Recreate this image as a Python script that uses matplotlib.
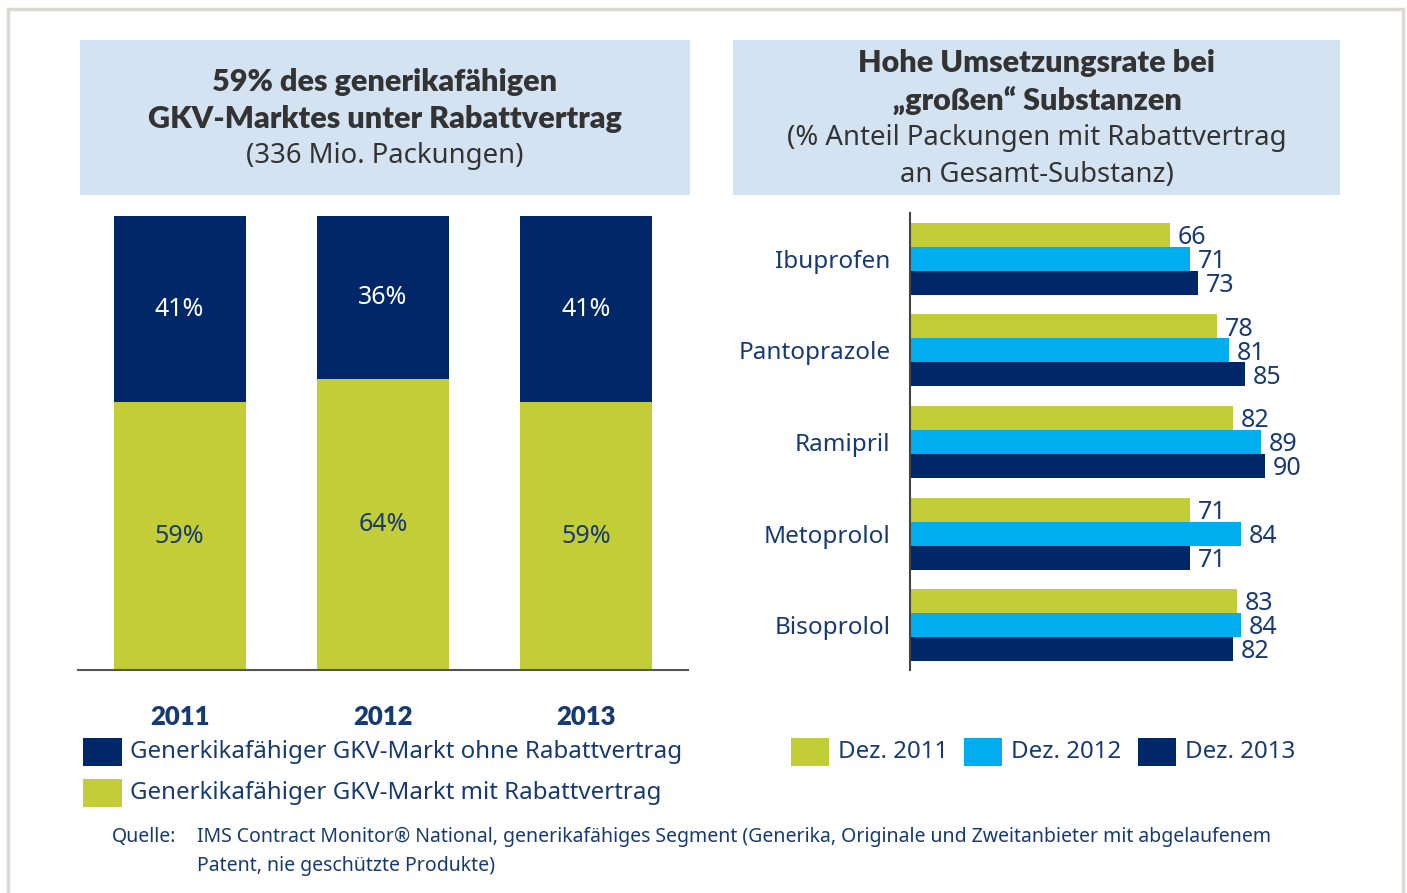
import matplotlib
matplotlib.use('Agg')
import matplotlib.pyplot as plt
from matplotlib.patches import Rectangle
import numpy as np

# left chart: share of generic-capable GKV market (%)
years = ['2011', '2012', '2013']
mit_rabatt = [59, 64, 59]
ohne_rabatt = [41, 36, 41]

# right chart: % packages under discount contract per substance
substances = ['Ibuprofen', 'Pantoprazole', 'Ramipril', 'Metoprolol', 'Bisoprolol']
dez_2011 = [66, 78, 82, 71, 83]
dez_2012 = [71, 81, 89, 84, 84]
dez_2013 = [73, 85, 90, 71, 82]

GREEN = '#c3cd37'
CYAN = '#00aeef'
NAVY = '#002868'
TXT = '#173a72'
TITLE = '#333333'
BOX = '#d4e3f1'
BOLD_FONT = ['Lato', 'DejaVu Sans']

W, H = 1407, 893
plt.rcParams['font.family'] = ['Noto Sans', 'DejaVu Sans']
fig = plt.figure(figsize=(W / 100, H / 100), dpi=100)


def box(x0, y0, x1, y1):
    # pixel coords (y from top) -> figure rect
    return [x0 / W, 1 - y1 / H, (x1 - x0) / W, (y1 - y0) / H]


def fx(x):
    return x / W


def fy(y):
    return 1 - y / H


def rect(x0, y0, x1, y1, **kw):
    r = Rectangle((fx(x0), fy(y1)), (x1 - x0) / W, (y1 - y0) / H,
                  transform=fig.transFigure, **kw)
    fig.patches.append(r)


# outer frame
rect(8, 9, 1403, 905, fill=False, ec='#dcd8d2', lw=2.5)

# title boxes
rect(80, 40, 690, 195, color=BOX, lw=0)
rect(733, 40, 1340, 195, color=BOX, lw=0)

fig.text(fx(385), fy(82), '59% des generikafähigen', ha='center', va='center',
         fontsize=22, fontweight='heavy', family=BOLD_FONT, color=TITLE)
fig.text(fx(385), fy(119), 'GKV-Marktes unter Rabattvertrag', ha='center', va='center',
         fontsize=22, fontweight='heavy', family=BOLD_FONT, color=TITLE)
fig.text(fx(385), fy(156), '(336 Mio. Packungen)', ha='center', va='center',
         fontsize=19.8, color=TITLE)

fig.text(fx(1037), fy(63), 'Hohe Umsetzungsrate bei', ha='center', va='center',
         fontsize=22, fontweight='heavy', family=BOLD_FONT, color=TITLE)
fig.text(fx(1037), fy(100), '„großen“ Substanzen', ha='center', va='center',
         fontsize=22, fontweight='heavy', family=BOLD_FONT, color=TITLE)
fig.text(fx(1037), fy(138), '(% Anteil Packungen mit Rabattvertrag', ha='center', va='center',
         fontsize=19.8, color=TITLE)
fig.text(fx(1037), fy(175), 'an Gesamt-Substanz)', ha='center', va='center',
         fontsize=19.8, color=TITLE)

# ---- left stacked bars
ax1 = fig.add_axes(box(78, 216, 688, 670))
x = np.arange(len(years))
ax1.bar(x, mit_rabatt, width=0.65, color=GREEN)
ax1.bar(x, ohne_rabatt, width=0.65, bottom=mit_rabatt, color=NAVY)
for i in range(len(years)):
    ax1.text(x[i], mit_rabatt[i] / 2, f'{mit_rabatt[i]}%', ha='center', va='center',
             fontsize=18, color=TXT)
    ax1.text(x[i], mit_rabatt[i] + ohne_rabatt[i] / 2, f'{ohne_rabatt[i]}%',
             ha='center', va='center', fontsize=18, color='white')
ax1.set_xlim(-0.5, 2.5)
ax1.set_ylim(0, 100)
ax1.set_xticks(x)
ax1.set_xticklabels(years, fontsize=18.5, fontweight='heavy', family=BOLD_FONT, color=TXT)
ax1.tick_params(axis='x', length=0, pad=25)
ax1.set_yticks([])
for s in ['top', 'left', 'right']:
    ax1.spines[s].set_visible(False)
ax1.spines['bottom'].set_color('#555555')
ax1.spines['bottom'].set_linewidth(1.5)

# ---- right grouped horizontal bars
ax2 = fig.add_axes(box(910, 213, 1340, 670))
y = np.arange(len(substances))
h = 0.262
series = [(dez_2011, GREEN, -h), (dez_2012, CYAN, 0), (dez_2013, NAVY, h)]
for vals, col, off in series:
    ax2.barh(y + off, vals, height=h, color=col, zorder=2)
    for yi, v in zip(y, vals):
        ax2.text(v + 2, yi + off + 0.03, str(v), ha='left', va='center',
                 fontsize=18, color=TXT, zorder=1)
ax2.set_xlim(0, 430 / 3.94)
ax2.set_ylim(4.49, -0.5)
ax2.set_yticks(y)
ax2.set_yticklabels(substances, fontsize=17.5, color=TXT)
ax2.tick_params(axis='y', length=0, pad=14)
ax2.set_xticks([])
for s in ['top', 'bottom', 'right']:
    ax2.spines[s].set_visible(False)
ax2.spines['left'].set_color('#444444')
ax2.spines['left'].set_linewidth(1.5)

# ---- legends
left_leg = [(NAVY, 'Generkikafähiger GKV-Markt ohne Rabattvertrag', 752),
            (GREEN, 'Generkikafähiger GKV-Markt mit Rabattvertrag', 793)]
for col, lab, yc in left_leg:
    rect(83, yc - 14, 122, yc + 14, color=col, lw=0)
    fig.text(fx(130), fy(yc), lab, ha='left', va='center', fontsize=17.3, color=TXT)

right_leg = [(GREEN, 'Dez. 2011', 791), (CYAN, 'Dez. 2012', 964), (NAVY, 'Dez. 2013', 1138)]
for col, lab, x0 in right_leg:
    rect(x0, 738, x0 + 38, 766, color=col, lw=0)
    fig.text(fx(x0 + 47), fy(752), lab, ha='left', va='center', fontsize=17.3, color=TXT)

# ---- source note
fig.text(fx(112), fy(837), 'Quelle:', ha='left', va='center', fontsize=14, color=TXT)
fig.text(fx(197), fy(837), 'IMS Contract Monitor® National, generikafähiges Segment (Generika, '
         'Originale und Zweitanbieter mit abgelaufenem', ha='left', va='center',
         fontsize=14, color=TXT)
fig.text(fx(197), fy(866), 'Patent, nie geschützte Produkte)', ha='left', va='center',
         fontsize=14, color=TXT)

fig.savefig('out.png', dpi=100)
